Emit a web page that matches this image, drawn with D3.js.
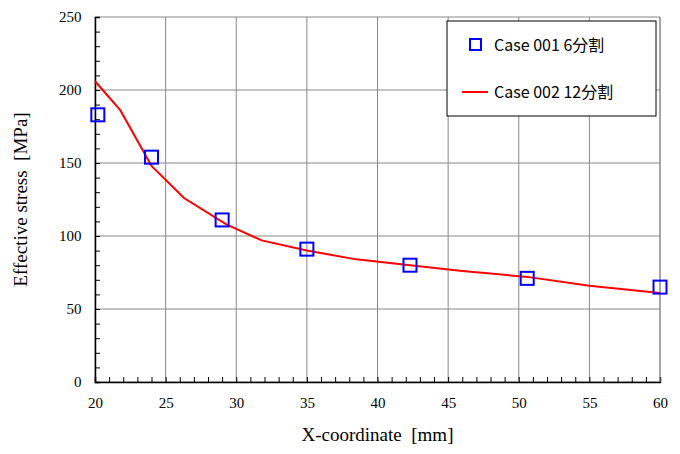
<!DOCTYPE html>
<html><head><meta charset="utf-8">
<script src="https://cdn.jsdelivr.net/npm/d3@7"></script>
<style>body{margin:0;background:#fff} text{white-space:pre}</style>
</head><body>
<div id="vizholder"></div>
<script>
var case001X = [20.2, 24, 29, 35, 42.3, 50.6, 60];
var case001Y = [183, 154, 111, 91, 80, 71, 65];
var case002X = [20, 21.8, 24, 26.3, 29.3, 31.8, 35, 38.5, 42.3, 46, 50.6, 55, 60];
var case002Y = [206, 186, 148, 126, 108, 97, 90, 84, 80, 76, 72, 66, 61];
var xTicks = [20, 25, 30, 35, 40, 45, 50, 55, 60];
var yTicks = [0, 50, 100, 150, 200, 250];
var seriesNames = ["Case 001 6分割", "Case 002 12分割"];

var svg = d3.select("#vizholder").append("svg").attr("width", 680).attr("height", 454);
var x = d3.scaleLinear().domain([20, 60]).range([95, 660]);
var y = d3.scaleLinear().domain([0, 250]).range([382, 17]);
var serif = "'Liberation Serif', 'DejaVu Serif', serif";

// grid
svg.append("g").selectAll("line").data(xTicks).enter().append("line")
  .attr("x1", function(d){ return x(d); }).attr("x2", function(d){ return x(d); })
  .attr("y1", y(0)).attr("y2", y(250)).attr("stroke", "#888").attr("stroke-width", 1);
svg.append("g").selectAll("line").data(yTicks).enter().append("line")
  .attr("x1", x(20)).attr("x2", x(60))
  .attr("y1", function(d){ return y(d); }).attr("y2", function(d){ return y(d); })
  .attr("stroke", "#888").attr("stroke-width", 1);

// axes
var xAxis = svg.append("g").attr("transform", "translate(0," + y(0) + ")")
  .call(d3.axisBottom(x).tickValues(d3.range(20, 61, 1)).tickSize(-5).tickFormat(function(d){ return d % 5 === 0 ? d : ""; }));
xAxis.selectAll("text").attr("dy", "1.5em");
var yAxis = svg.append("g").attr("transform", "translate(" + x(20) + ",0)")
  .call(d3.axisLeft(y).tickValues(d3.range(0, 251, 10)).tickSize(-5).tickFormat(function(d){ return d % 50 === 0 ? d : ""; }));
yAxis.selectAll("text").attr("dx", "-0.7em");
svg.selectAll(".domain").attr("stroke", "#000").attr("stroke-width", 1.5);
svg.selectAll(".tick line").attr("stroke", "#000");
svg.selectAll(".tick text").style("font-family", serif).style("font-size", "15px").attr("fill", "#000");
svg.append("line").attr("x1", x(60)).attr("x2", x(60)).attr("y1", y(0)).attr("y2", y(250)).attr("stroke", "#888");

// line
var line = d3.line().x(function(d){ return x(d[0]); }).y(function(d){ return y(d[1]); });
svg.append("path").datum(d3.zip(case002X, case002Y)).attr("d", line)
  .attr("fill", "none").attr("stroke", "#ff0000").attr("stroke-width", 2);

// squares
svg.append("g").selectAll("rect").data(d3.zip(case001X, case001Y)).enter().append("rect")
  .attr("x", function(d){ return x(d[0]) - 6.5; }).attr("y", function(d){ return y(d[1]) - 6.5; })
  .attr("width", 13).attr("height", 13).attr("fill", "none").attr("stroke", "#0000ff").attr("stroke-width", 2);

// axis titles
svg.append("text").attr("x", (x(20) + x(60)) / 2).attr("y", 441).attr("text-anchor", "middle")
  .style("font-family", serif).style("font-size", "19px").text("X-coordinate  [mm]");
svg.append("text").attr("transform", "translate(27," + (y(125)) + ") rotate(-90)").attr("text-anchor", "middle")
  .style("font-family", serif).style("font-size", "19px").text("Effective stress  [MPa]");

// legend
var lg = svg.append("g");
lg.append("rect").attr("x", 447).attr("y", 21).attr("width", 209).attr("height", 95)
  .attr("fill", "#fff").attr("stroke", "#000").attr("stroke-width", 1);
lg.append("rect").attr("x", 470).attr("y", 39).attr("width", 11).attr("height", 11)
  .attr("fill", "none").attr("stroke", "#0000ff").attr("stroke-width", 2);
lg.append("line").attr("x1", 462).attr("x2", 488).attr("y1", 92).attr("y2", 92)
  .attr("stroke", "#ff0000").attr("stroke-width", 2);
lg.selectAll("text").data(seriesNames).enter().append("text")
  .attr("x", 494).attr("y", function(d, i){ return 51 + i * 47; })
  .style("font-family", "'Noto Sans CJK JP', 'DejaVu Sans', sans-serif").style("font-size", "16px")
  .text(function(d){ return d; });
</script>
</body></html>
